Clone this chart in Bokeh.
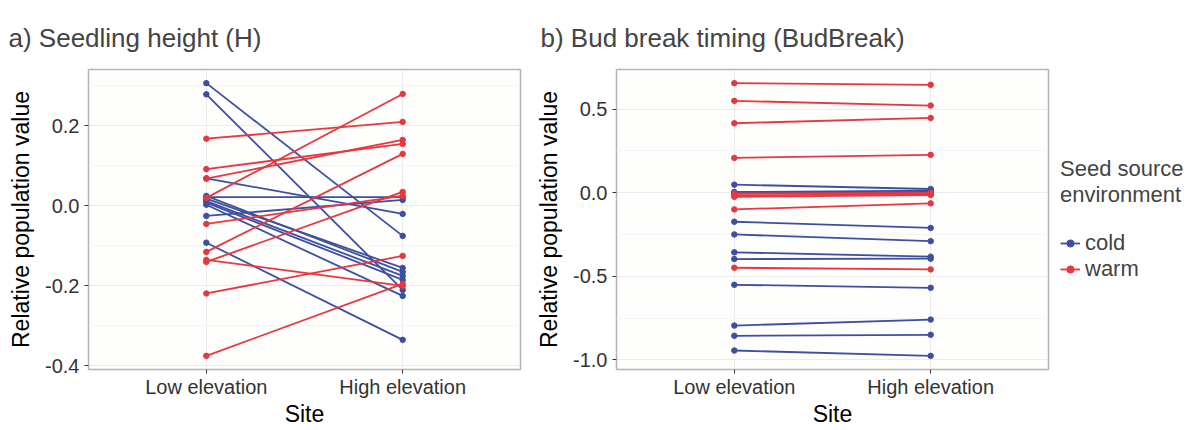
from bokeh.plotting import figure
from bokeh.models import Range1d, FixedTicker, Title, Legend, LegendItem, ColumnDataSource
from bokeh.layouts import row
from bokeh.embed import file_html
from bokeh.resources import INLINE

# Sites (x categories)
sites = ["Low elevation", "High elevation"]

# a) Seedling height: relative population values at each site
cold_low_a = [0.307, 0.279, 0.069, 0.025, 0.022, 0.018, 0.012, 0.008, 0.003, -0.025, -0.092]
cold_high_a = [-0.075, -0.21, -0.02, -0.165, 0.022, -0.155, -0.175, -0.185, -0.225, 0.015, -0.335]
warm_low_a = [0.168, 0.092, 0.068, 0.02, -0.045, -0.115, -0.135, -0.14, -0.219, -0.375]
warm_high_a = [0.21, 0.155, 0.165, 0.28, 0.025, 0.13, -0.2, 0.035, -0.125, -0.195]

# b) Bud break timing
cold_low_b = [0.048, 0.004, -0.003, -0.174, -0.25, -0.357, -0.397, -0.551, -0.795, -0.856, -0.944]
cold_high_b = [0.022, 0.012, 0.004, -0.211, -0.29, -0.383, -0.395, -0.569, -0.759, -0.85, -0.976]
warm_low_b = [0.655, 0.549, 0.415, 0.208, -0.005, -0.015, -0.025, -0.1, -0.449]
warm_high_b = [0.645, 0.521, 0.447, 0.226, -0.002, -0.01, -0.014, -0.064, -0.459]

ticks_a = [-0.4, -0.2, 0.0, 0.2]
minor_a = [-0.3, -0.1, 0.1, 0.3]
ticks_b = [-1.0, -0.5, 0.0, 0.5]
minor_b = [-0.75, -0.25, 0.25]

COLD = "#3D4FA1"
WARM = "#E8373E"
FONT = "Liberation Sans"
BG = "#FEFEFD"

site_pos = {s: i + 1 for i, s in enumerate(sites)}


def padded(vals_lists):
    lo = min(min(v) for v in vals_lists)
    hi = max(max(v) for v in vals_lists)
    pad = (hi - lo) * 0.05
    return lo - pad, hi + pad


def draw_group(p, low, high, color):
    x_lo, x_hi = site_pos[sites[0]], site_pos[sites[1]]
    lines = ColumnDataSource(dict(xs=[[x_lo, x_hi] for _ in low],
                                  ys=[[a, b] for a, b in zip(low, high)]))
    pts = ColumnDataSource(dict(x=[x_lo] * len(low) + [x_hi] * len(high),
                                y=list(low) + list(high)))
    ln = p.multi_line("xs", "ys", source=lines, line_color=color, line_width=1.8)
    sc = p.scatter("x", "y", source=pts, size=5.5, fill_color=color, line_color=color)
    return ln, sc


def make_panel(title, cl, ch, wl, wh, ticks, minor, mbl, mbr, toff):
    y0, y1 = padded([cl, ch, wl, wh])
    p = figure(frame_width=432, frame_height=300,
               x_range=Range1d(site_pos[sites[0]] - 0.6, site_pos[sites[1]] + 0.6),
               y_range=Range1d(y0, y1),
               output_backend="svg", toolbar_location=None,
               min_border_left=mbl, min_border_right=mbr,
               min_border_top=69, min_border_bottom=61)
    p.background_fill_color = BG
    p.border_fill_color = "white"
    p.outline_line_color = "#B5B5B5"
    p.outline_line_width = 1.5

    p.xaxis.ticker = FixedTicker(ticks=[site_pos[s] for s in sites])
    p.xaxis.major_label_overrides = {site_pos[s]: s for s in sites}
    p.yaxis.ticker = FixedTicker(ticks=ticks, minor_ticks=minor)
    p.yaxis.major_label_overrides = {t: f"{t:.1f}" for t in ticks}

    for ax in (p.xaxis, p.yaxis):
        ax.axis_line_color = None
        ax.major_tick_line_color = "#333333"
        ax.major_tick_out = 4
        ax.major_tick_in = 0
        ax.minor_tick_line_color = None
        ax.major_label_text_font = FONT
        ax.major_label_text_font_size = "20px"
        ax.major_label_text_color = "#333333"
        ax.axis_label_text_font = FONT
        ax.axis_label_text_font_size = "23px"
        ax.axis_label_text_font_style = "normal"
        ax.axis_label_text_color = "black"
    p.xaxis.axis_label = "Site"
    p.yaxis.axis_label = "Relative population value"
    p.xaxis.major_label_standoff = 2
    p.xaxis.axis_label_standoff = 0
    p.yaxis.major_label_standoff = 5
    p.yaxis.axis_label_standoff = 8

    p.xgrid.ticker = FixedTicker(ticks=[site_pos[s] for s in sites])
    p.xgrid.grid_line_color = "#EBEBEB"
    p.ygrid.grid_line_color = "#EBEBEB"
    p.ygrid.minor_grid_line_color = "#F5F5F5"

    # panel heading, pinned to the top of its strip above the frame
    t = Title(text=title, align="left", offset=toff, standoff=30, vertical_align="top",
              text_line_height=1.5,
              text_font=FONT, text_font_size="26px", text_font_style="normal")
    p.add_layout(t, "above")

    cold = draw_group(p, cl, ch, COLD)
    warm = draw_group(p, wl, wh, WARM)
    return p, cold, warm


pa, _, _ = make_panel("a) Seedling height (H)", cold_low_a, cold_high_a, warm_low_a, warm_high_a,
                      ticks_a, minor_a, 88, 10, -80)
pb, cold_b, warm_b = make_panel("b) Bud break timing (BudBreak)", cold_low_b, cold_high_b,
                                warm_low_b, warm_high_b, ticks_b, minor_b, 86, 0, -76)

legend = Legend(items=[LegendItem(label="cold", renderers=list(cold_b)),
                       LegendItem(label="warm", renderers=list(warm_b))],
                title="Seed source\nenvironment", location="center_left")
legend.title_text_font = FONT
legend.title_text_font_size = "22px"
legend.title_text_font_style = "normal"
legend.title_standoff = 22
legend.label_text_font = FONT
legend.label_text_font_size = "22px"
legend.glyph_width = 20
legend.glyph_height = 18
legend.label_height = 18
legend.spacing = 0
legend.padding = 0
legend.margin = 12
legend.border_line_color = None
legend.background_fill_alpha = 0
pb.add_layout(legend, "right")

layout = row(pa, pb, spacing=0)
open("out.html", "w").write(file_html(layout, INLINE))
